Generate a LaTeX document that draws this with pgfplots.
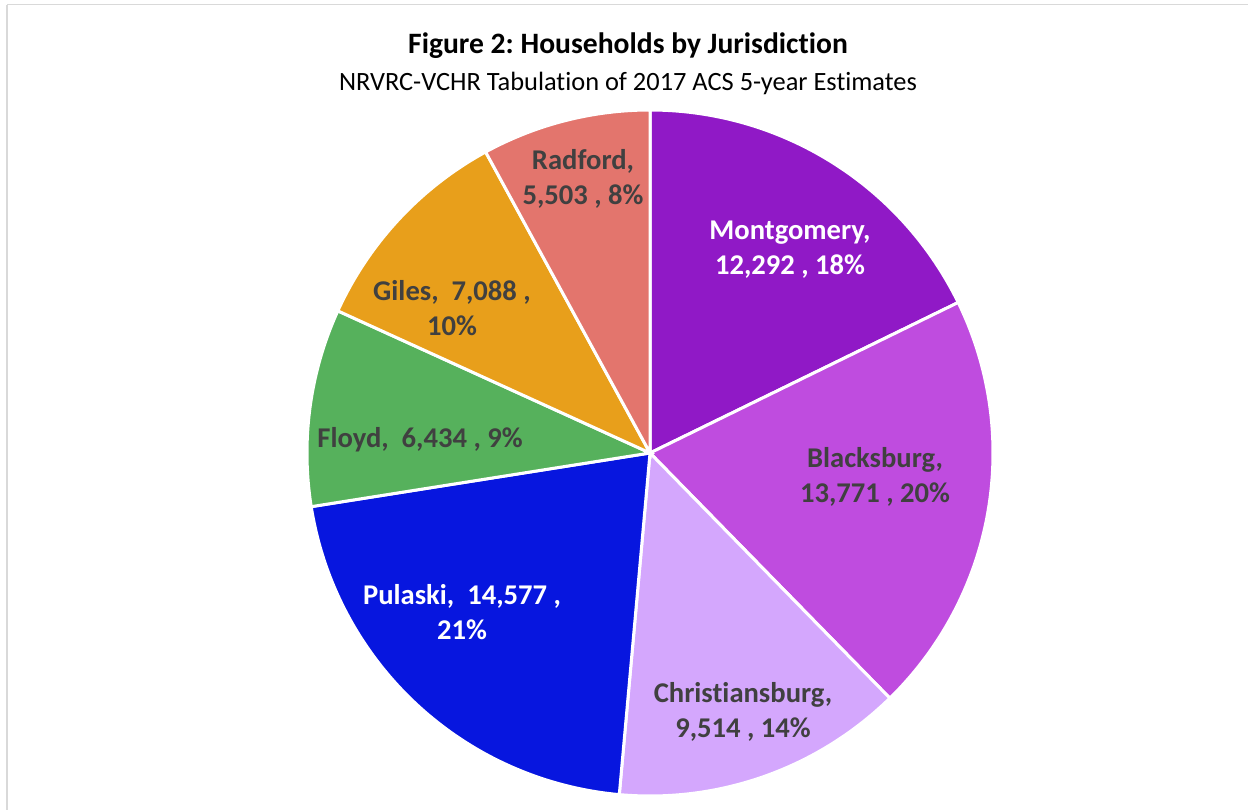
\documentclass[border=0pt]{standalone}
\usepackage{pgfplots}
\pgfplotsset{compat=1.18}
\usepackage{fontspec}
\setmainfont{Carlito}[RawFeature=-liga]
\definecolor{cMont}{HTML}{9019C6}
\definecolor{cBlack}{HTML}{BF4CDF}
\definecolor{cChris}{HTML}{D4A7FD}
\definecolor{cPul}{HTML}{0716DF}
\definecolor{cFloyd}{HTML}{56B15C}
\definecolor{cGiles}{HTML}{E89F1B}
\definecolor{cRad}{HTML}{E3756D}
\definecolor{lbl}{HTML}{404040}
% households by jurisdiction
\def\vMont{12292}
\def\vBlack{13771}
\def\vChris{9514}
\def\vPul{14577}
\def\vFloyd{6434}
\def\vGiles{7088}
\def\vRad{5503}
\edef\total{\fpeval{\vMont+\vBlack+\vChris+\vPul+\vFloyd+\vGiles+\vRad}}
\edef\aA{90}
\edef\aB{\fpeval{\aA-360*\vMont/\total}}
\edef\aC{\fpeval{\aB-360*\vBlack/\total}}
\edef\aD{\fpeval{\aC-360*\vChris/\total}}
\edef\aE{\fpeval{\aD-360*\vPul/\total}}
\edef\aF{\fpeval{\aE-360*\vFloyd/\total}}
\edef\aG{\fpeval{\aF-360*\vGiles/\total}}
\edef\aH{\fpeval{\aG-360*\vRad/\total}}
\def\cx{650}
\def\cy{357}
\def\R{343}
\frenchspacing
\begin{document}
\begin{tikzpicture}
\begin{axis}[
  scale only axis, width=624pt, height=405pt,
  xmin=0, xmax=1248, ymin=0, ymax=810,
  hide axis, clip=false,
  every axis plot/.append style={draw=white, line width=1.5pt, samples=90, variable=\t},
]
\addplot[fill=cMont,  domain=\aB:\aA] ({\cx+\R*cos(t)},{\cy+\R*sin(t)}) -- (axis cs:\cx,\cy) -- cycle;
\addplot[fill=cBlack, domain=\aC:\aB] ({\cx+\R*cos(t)},{\cy+\R*sin(t)}) -- (axis cs:\cx,\cy) -- cycle;
\addplot[fill=cChris, domain=\aD:\aC] ({\cx+\R*cos(t)},{\cy+\R*sin(t)}) -- (axis cs:\cx,\cy) -- cycle;
\addplot[fill=cPul,   domain=\aE:\aD] ({\cx+\R*cos(t)},{\cy+\R*sin(t)}) -- (axis cs:\cx,\cy) -- cycle;
\addplot[fill=cFloyd, domain=\aF:\aE] ({\cx+\R*cos(t)},{\cy+\R*sin(t)}) -- (axis cs:\cx,\cy) -- cycle;
\addplot[fill=cGiles, domain=\aG:\aF] ({\cx+\R*cos(t)},{\cy+\R*sin(t)}) -- (axis cs:\cx,\cy) -- cycle;
\addplot[fill=cRad,   domain=\aH:\aG] ({\cx+\R*cos(t)},{\cy+\R*sin(t)}) -- (axis cs:\cx,\cy) -- cycle;

\draw[color=black!15, line width=0.5pt] (axis cs:7,805) -- (axis cs:1248,805);
\draw[color=black!15, line width=1pt] (axis cs:7,805) -- (axis cs:7,0);

\node[font=\fontsize{14.8}{17}\selectfont\bfseries] at (axis cs:628,764) {Figure 2: Households by Jurisdiction};
\node[font=\fontsize{13.2}{15}\selectfont] at (axis cs:628,727) {NRVRC-VCHR Tabulation of 2017 ACS 5-year Estimates};

\tikzset{lab/.style={font=\fontsize{14.3}{17.5}\selectfont\bfseries, align=center, text=lbl}}
\node[lab, text=white] at (axis cs:790,560) {Montgomery,\\12,292 , 18\%};
\node[lab] at (axis cs:875,333) {Blacksburg,\\13,771 , 20\%};
\node[lab] at (axis cs:743,98) {Christiansburg,\\9,514 , 14\%};
\node[lab, text=white] at (axis cs:462,198) {Pulaski,~ 14,577 ,\\21\%};
\node[lab] at (axis cs:420,370) {Floyd,~ 6,434 , 9\%};
\node[lab] at (axis cs:452,502) {Giles,~ 7,088 ,\\10\%};
\node[lab] at (axis cs:583,631) {Radford,\\5,503 , 8\%};
\end{axis}
\pgfresetboundingbox
\path (current axis.south west) rectangle (current axis.north east);
\end{tikzpicture}
\end{document}
